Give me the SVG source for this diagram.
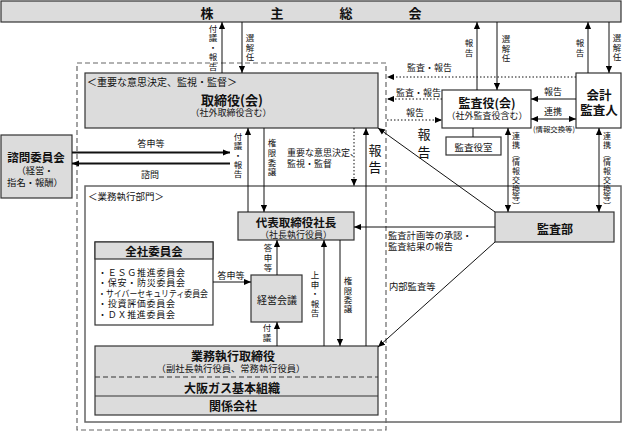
<svg xmlns="http://www.w3.org/2000/svg" width="623" height="431" viewBox="0 0 623 431">
<defs>
<marker id="ah" viewBox="0 0 8 8" refX="8" refY="4" markerWidth="7" markerHeight="7" orient="auto-start-reverse" markerUnits="userSpaceOnUse"><path d="M0,0.5 L8,4 L0,7.5 z" fill="#000"/></marker>
</defs>
<style>
text{font-family:"Noto Sans CJK JP","Noto Sans",sans-serif;fill:#111;dominant-baseline:central}
.t{font-weight:bold;text-anchor:middle}
.s{font-size:9px;text-anchor:middle}
.vt{font-size:8.5px;writing-mode:vertical-rl;letter-spacing:1px}
.l{font-size:9px}
.li{font-size:9px}
.box{fill:#dcdcdc;stroke:#333;stroke-width:1.2}
.wbox{fill:#fff;stroke:#333;stroke-width:1.2}
.frame{fill:none;stroke:#666;stroke-width:1.2;stroke-dasharray:5 3}
.ln{stroke:#111;stroke-width:1;fill:none}
.ar{marker-end:url(#ah)}
.dar{marker-start:url(#ah);marker-end:url(#ah)}
.dot{stroke-dasharray:1.5 2}
.thick{stroke-width:2.2}
</style>
<rect width="623" height="431" fill="#fff"/>

<g id="governance-frame">
<rect class="frame" x="77" y="63" width="309" height="367"/>
</g>

<g id="execution-division">
<rect x="85" y="186" width="536" height="236" fill="none" stroke="#666" stroke-width="1.5"/>
<text class="l" x="88" y="196" style="font-size:9.5px">＜業務執行部門＞</text>
</g>

<g id="shareholders">
<rect class="box" x="1" y="1" width="620" height="21"/>
<text class="t" style="font-size:13px" x="207" y="12">株</text>
<text class="t" style="font-size:13px" x="277" y="12">主</text>
<text class="t" style="font-size:13px" x="346" y="12">総</text>
<text class="t" style="font-size:13px" x="415" y="12">会</text>
</g>

<g id="board">
<rect class="box" x="85" y="73" width="293" height="55" stroke-width="1.5"/>
<text class="l" x="87" y="81" style="font-size:10px">＜重要な意思決定、監視・監督＞</text>
<text class="t" style="font-size:13px" x="232" y="99">取締役(会)</text>
<text class="s" x="231" y="112">（社外取締役含む）</text>
</g>

<g id="advisory-committee">
<rect class="box" x="1" y="135" width="71" height="63"/>
<text class="t" style="font-size:11.5px" x="36" y="157">諮問委員会</text>
<text class="s" style="font-size:9.3px" x="35" y="169.5">（経営・</text>
<text class="s" style="font-size:9.3px" x="35" y="182">指名・報酬）</text>
</g>

<g id="audit-board">
<rect class="wbox" x="442" y="90" width="89" height="38"/>
<text class="t" style="font-size:12px" x="487" y="102">監査役(会)</text>
<text class="s" x="487" y="115">（社外監査役含む）</text>
</g>

<g id="audit-office">
<rect class="wbox" x="446" y="137" width="55" height="18"/>
<text class="s" style="font-size:9.5px" x="473.5" y="146.5">監査役室</text>
</g>

<g id="accounting-auditor">
<rect class="wbox" x="576" y="73" width="45" height="55"/>
<text class="t" style="font-size:12.5px" x="599" y="94">会計</text>
<text class="t" style="font-size:12.5px" x="599" y="109">監査人</text>
</g>

<g id="president">
<rect class="box" x="238" y="212" width="116" height="28"/>
<text class="t" style="font-size:11.5px" x="296" y="222">代表取締役社長</text>
<text class="s" x="296" y="234">（社長執行役員）</text>
</g>

<g id="internal-audit">
<rect class="box" x="495" y="212" width="119" height="30"/>
<text class="t" style="font-size:12px" x="555" y="228">監査部</text>
</g>

<g id="committees">
<rect class="wbox" x="95" y="242" width="118" height="83"/>
<rect class="box" x="95" y="242" width="118" height="17"/>
<text class="t" style="font-size:11.5px" x="154" y="251">全社委員会</text>
<text class="li" x="98" y="272" textLength="87" lengthAdjust="spacing">・ＥＳＧ推進委員会</text>
<text class="li" x="98" y="282.5" textLength="87" lengthAdjust="spacing">・保安・防災委員会</text>
<text class="li" x="98" y="293" textLength="110" lengthAdjust="spacingAndGlyphs">・サイバーセキュリティ委員会</text>
<text class="li" x="98" y="303.5" textLength="77" lengthAdjust="spacing">・投資評価委員会</text>
<text class="li" x="98" y="314" textLength="77" lengthAdjust="spacing">・ＤＸ推進委員会</text>
</g>

<g id="management-meeting">
<rect class="box" x="251" y="275" width="51" height="47"/>
<text class="s" style="font-size:10px" x="277" y="299">経営会議</text>
</g>

<g id="executive-officers">
<rect class="box" x="95" y="346" width="283" height="69"/>
<line x1="95" y1="377" x2="378" y2="377" stroke="#333" stroke-dasharray="5 3"/>
<line x1="95" y1="396" x2="378" y2="396" stroke="#333"/>
<text class="t" style="font-size:12px" x="233" y="355">業務執行取締役</text>
<text class="s" style="font-size:9.3px" x="231" y="367.5">（副社長執行役員、常務執行役員）</text>
<text class="t" style="font-size:12px" x="232" y="387">大阪ガス基本組織</text>
<text class="t" style="font-size:12px" x="233" y="405.5">関係会社</text>
</g>

<g id="connectors">
<line class="ln ar" x1="222" y1="73" x2="222" y2="22"/>
<line class="ln ar" x1="242" y1="22" x2="242" y2="73"/>
<line class="ln ar" x1="477" y1="90" x2="477" y2="22"/>
<line class="ln ar" x1="497" y1="22" x2="497" y2="90"/>
<line class="ln ar" x1="588" y1="73" x2="588" y2="22"/>
<line class="ln ar" x1="609" y1="22" x2="609" y2="73"/>
<line class="ln ar" x1="576" y1="99" x2="531" y2="99"/>
<line class="ln dar" x1="531" y1="119" x2="576" y2="119"/>
<line class="ln ar dot" x1="576" y1="77" x2="387" y2="77"/>
<line class="ln ar dot" x1="442" y1="99" x2="387" y2="99"/>
<line class="ln ar dot" x1="387" y1="120" x2="442" y2="120"/>
<line class="ln" x1="473" y1="128" x2="473" y2="137"/>
<line class="ln dar" x1="508" y1="128" x2="508" y2="212"/>
<line class="ln dar" x1="599" y1="128" x2="599" y2="212"/>
<line class="ln ar" x1="495" y1="212" x2="378" y2="128"/>
<line class="ln ar" x1="495" y1="227" x2="354" y2="227"/>
<line class="ln ar" x1="495" y1="242" x2="378" y2="347"/>
<line class="ln ar thick" x1="72" y1="152.5" x2="230" y2="152.5"/>
<line class="ln ar thick" x1="230" y1="163.5" x2="72" y2="163.5"/>
<line class="ln ar" x1="248" y1="212" x2="248" y2="128"/>
<line class="ln ar" x1="264" y1="128" x2="264" y2="212"/>
<line class="ln ar dot" x1="354" y1="128" x2="354" y2="186"/>
<line class="ln ar" x1="366" y1="346" x2="366" y2="128"/>
<line class="ln ar" x1="277" y1="275" x2="277" y2="240"/>
<line class="ln ar" x1="324" y1="346" x2="324" y2="240"/>
<line class="ln ar" x1="340" y1="240" x2="340" y2="346"/>
<line class="ln ar" x1="277" y1="346" x2="277" y2="322"/>
<line class="ln ar" x1="213" y1="282" x2="251" y2="282"/>
</g>

<g id="labels">
<text class="vt" x="213" y="24.25">付議・報告</text>
<text class="vt" x="250" y="33.75">選解任</text>
<text class="vt" x="469" y="38.75" style="letter-spacing:1.5px">報告</text>
<text class="vt" x="506" y="34.75">選解任</text>
<text class="vt" x="580" y="38.75" style="letter-spacing:1.5px">報告</text>
<text class="vt" x="617" y="33.75">選解任</text>
<text class="l" x="407" y="67">監査・報告</text>
<text class="l" x="396" y="92">監査・報告</text>
<text class="s" x="415" y="112">報告</text>
<text class="vt" x="424" y="127.5" style="font-size:13px;letter-spacing:5px">報告</text>
<text class="s" x="553" y="91">報告</text>
<text class="s" x="553" y="111">連携</text>
<text class="s" style="font-size:7.4px" x="554" y="128">(情報交換等)</text>
<text class="vt" x="516" y="132" style="font-size:8px;letter-spacing:0.75px">連携（情報交換等）</text>
<text class="vt" x="607" y="132" style="font-size:8px;letter-spacing:0.75px">連携（情報交換等）</text>
<text class="s" x="151" y="143">答申等</text>
<text class="s" x="150" y="174">諮問</text>
<text class="vt" x="238" y="132.75" style="letter-spacing:0.75px">付議・報告</text>
<text class="vt" x="272" y="138.75" style="letter-spacing:1.2px">権限委譲</text>
<text class="l" x="287" y="152">重要な意思決定、</text>
<text class="l" x="287" y="163">監視・監督</text>
<text class="vt" x="375" y="143.5" style="font-size:13px;letter-spacing:4.5px">報告</text>
<text class="l" style="font-size:9.3px" x="388" y="235">監査計画等の承認・</text>
<text class="l" style="font-size:9.3px" x="388" y="246">監査結果の報告</text>
<text class="l" style="font-size:9.3px" x="389" y="286">内部監査等</text>
<text class="vt" x="268" y="243.75" style="letter-spacing:1.5px">答申等</text>
<text class="vt" x="315" y="270.75">上申・報告</text>
<text class="vt" x="348" y="276.75" style="letter-spacing:0.8px">権限委譲</text>
<text class="vt" x="267" y="323.75" style="letter-spacing:1.5px">付議</text>
<text class="s" x="231" y="275">答申等</text>
</g>
</svg>
